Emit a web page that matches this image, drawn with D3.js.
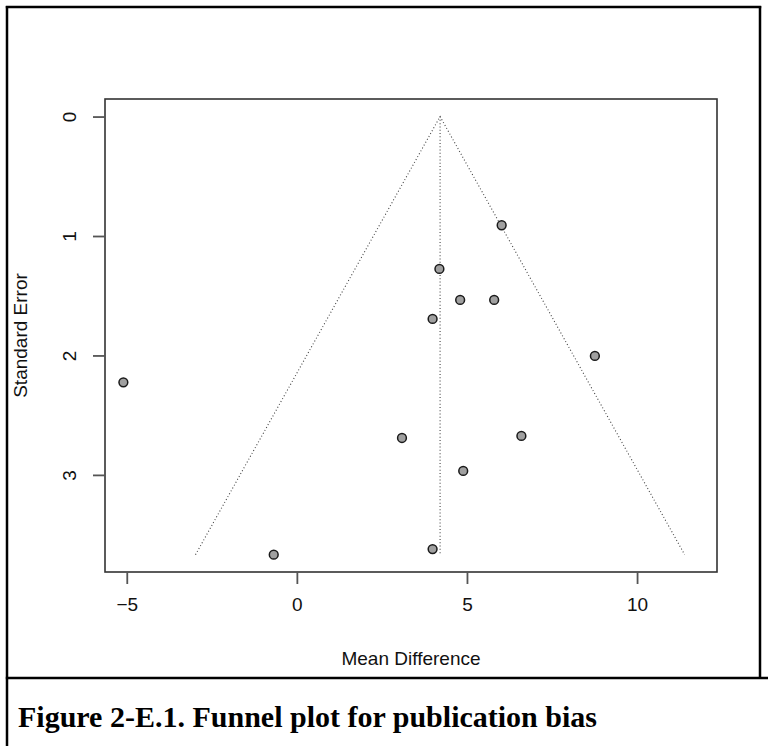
<!DOCTYPE html>
<html>
<head>
<meta charset="utf-8">
<script src="https://cdn.jsdelivr.net/npm/d3@7"></script>
<style>
  html, body { margin: 0; padding: 0; background: #fff; }
  svg { display: block; }
</style>
</head>
<body>
<svg id="fig" width="768" height="746"></svg>
<script>
// Study-level effects (mean difference) and their standard errors
const meanDiff = [6.02, 4.19, 4.80, 5.80, 3.99, 8.76, -5.10, 3.09, 6.60, 4.89, 3.99, -0.68];
const stdErr   = [0.910, 1.276, 1.535, 1.535, 1.694, 2.004, 2.225, 2.691, 2.674, 2.967, 3.621, 3.668];
// Pooled estimate (centre of the funnel)
const pooledMD = 4.21;
// Axis ticks and limits
const xTicks = [-5, 0, 5, 10];
const yTicks = [0, 1, 2, 3];
const xLimits = [-5.64, 12.35];
const yLimits = [-0.147, 3.813];
const captionText = "Figure 2-E.1. Funnel plot for publication bias";

const svg = d3.select("#fig");

// Table-like frame around the figure and its caption
const frame = svg.append("g").attr("fill", "none").attr("stroke", "#000").attr("stroke-width", 2.5);
frame.append("line").attr("x1", 7).attr("x2", 7).attr("y1", 6).attr("y2", 746);
frame.append("line").attr("x1", 5.8).attr("x2", 761.2).attr("y1", 7).attr("y2", 7);
frame.append("line").attr("x1", 760).attr("x2", 760).attr("y1", 6).attr("y2", 678);
frame.append("line").attr("x1", 5.8).attr("x2", 768).attr("y1", 678).attr("y2", 678);

// Plot region
const plot = { left: 105, right: 717, top: 99, bottom: 572 };
const x = d3.scaleLinear().domain(xLimits).range([plot.left, plot.right]);
const y = d3.scaleLinear().domain(yLimits).range([plot.top, plot.bottom]);

const g = svg.append("g");

// Funnel: pseudo 95% limits and the pooled-effect line
const seMax = d3.max(stdErr);
const funnel = [
  [pooledMD - 1.96 * seMax, seMax],
  [pooledMD, 0],
  [pooledMD + 1.96 * seMax, seMax]
];
const line = d3.line().x(d => x(d[0])).y(d => y(d[1]));
g.append("path")
  .attr("d", line(funnel))
  .attr("fill", "none")
  .attr("stroke", "#444")
  .attr("stroke-width", 1.1)
  .attr("stroke-dasharray", "1,2.3");
g.append("path")
  .attr("d", line([[pooledMD, 0], [pooledMD, seMax]]))
  .attr("fill", "none")
  .attr("stroke", "#444")
  .attr("stroke-width", 1.1)
  .attr("stroke-dasharray", "1,2.3");

// Studies
g.selectAll("circle.study")
  .data(d3.range(meanDiff.length))
  .join("circle")
  .attr("class", "study")
  .attr("cx", i => x(meanDiff[i]))
  .attr("cy", i => y(stdErr[i]))
  .attr("r", 4.4)
  .attr("fill", "#a0a0a0")
  .attr("stroke", "#1a1a1a")
  .attr("stroke-width", 1.5);

// Plot box
g.append("rect")
  .attr("x", plot.left).attr("y", plot.top)
  .attr("width", plot.right - plot.left).attr("height", plot.bottom - plot.top)
  .attr("fill", "none").attr("stroke", "#333").attr("stroke-width", 1.6);

// Axes
const font = "'Liberation Sans', Arial, sans-serif";
const xAxis = d3.axisBottom(x).tickValues(xTicks).tickSize(12).tickPadding(14)
  .tickFormat(d => d < 0 ? "\u2212" + Math.abs(d) : String(d));
const xg = svg.append("g").attr("transform", `translate(0,${plot.bottom})`).call(xAxis);
xg.select(".domain").remove();
xg.selectAll(".tick line").attr("stroke", "#555").attr("stroke-width", 1.8);
xg.selectAll(".tick text").attr("font-family", font).attr("font-size", 19).attr("fill", "#111");

const yAxis = d3.axisLeft(y).tickValues(yTicks).tickSize(12).tickFormat(d3.format("d"));
const yg = svg.append("g").attr("transform", `translate(${plot.left},0)`).call(yAxis);
yg.select(".domain").remove();
yg.selectAll(".tick line").attr("stroke", "#555").attr("stroke-width", 1.8);
yg.selectAll(".tick text")
  .attr("font-family", font).attr("font-size", 19).attr("fill", "#111")
  .attr("x", null).attr("dy", null)
  .attr("text-anchor", "middle")
  .attr("transform", "translate(-36,0) rotate(-90)")
  .attr("dy", "0.35em");

// Axis titles
svg.append("text")
  .attr("x", (plot.left + plot.right) / 2).attr("y", 665)
  .attr("text-anchor", "middle")
  .attr("font-family", font).attr("font-size", 19).attr("fill", "#111")
  .text("Mean Difference");
svg.append("text")
  .attr("transform", `translate(27,${(plot.top + plot.bottom) / 2}) rotate(-90)`)
  .attr("text-anchor", "middle")
  .attr("font-family", font).attr("font-size", 19).attr("fill", "#111")
  .text("Standard Error");

// Caption
svg.append("text")
  .attr("x", 18).attr("y", 727)
  .attr("font-family", "'Liberation Serif', 'Times New Roman', serif")
  .attr("font-weight", "bold").attr("font-size", 30).attr("fill", "#000")
  .text(captionText);
</script>
</body>
</html>
